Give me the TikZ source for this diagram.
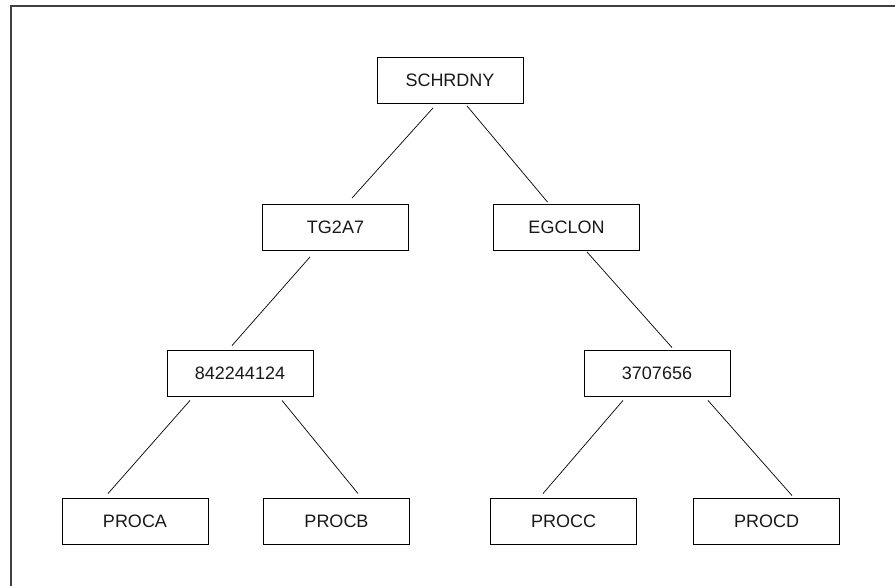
\documentclass[tikz,border=0pt]{standalone}
\usepackage{fontspec}
\setmainfont{Liberation Sans}
\begin{document}
\begin{tikzpicture}[x=1pt,y=-1pt,
  box/.style={draw=black,line width=0.9pt,minimum width=146pt,minimum height=46pt,inner sep=0pt,font=\fontsize{18}{21}\selectfont,text=black!90},
  link/.style={draw=black,line width=0.7pt},
  frame/.style={draw=black!75,line width=1.6pt}]
\useasboundingbox (0,0) rectangle (895,586);
\fill[white] (0,0) rectangle (895,586);
\coordinate (f1) at (11,586);
\coordinate (f2) at (11,6);
\coordinate (f3) at (895,6);
\draw[frame] (f1) -- (f2) -- (f3);
\node[box] (s) at (450,80.5) {SCHRDNY};
\node[box] (t) at (335.5,227.5) {TG2A7};
\node[box] (e) at (566.5,227.5) {EGCLON};
\node[box] (a) at (240,373) {842244124};
\node[box] (b) at (657,373) {3707656};
\node[box] (pa) at (135,521.5) {PROCA};
\node[box] (pb) at (336.5,521.5) {PROCB};
\node[box] (pc) at (563.5,521.5) {PROCC};
\node[box] (pd) at (766.5,521.5) {PROCD};
\draw[link] ([shift={(-17,4)}]s.south) -- ([shift={(16.5,-6)}]t.north);
\draw[link] ([shift={(17,2)}]s.south) -- ([shift={(-19,-2)}]e.north);
\draw[link] ([shift={(-25.5,6)}]t.south) -- ([shift={(-8,-4)}]a.north);
\draw[link] ([shift={(20.5,1)}]e.south) -- ([shift={(15,-2)}]b.north);
\draw[link] ([shift={(-50,4)}]a.south) -- ([shift={(-27,-4.5)}]pa.north);
\draw[link] ([shift={(42,4)}]a.south) -- ([shift={(21.5,-4.5)}]pb.north);
\draw[link] ([shift={(-34,4)}]b.south) -- ([shift={(-20.5,-4.5)}]pc.north);
\draw[link] ([shift={(51,4)}]b.south) -- ([shift={(25.5,-2.5)}]pd.north);
\end{tikzpicture}
\end{document}
